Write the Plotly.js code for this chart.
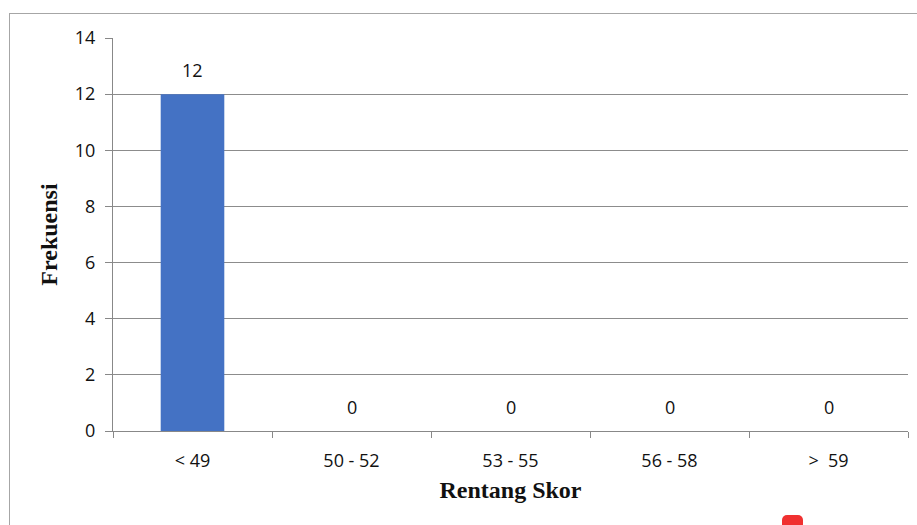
<!DOCTYPE html>
<html>
<head>
<meta charset="utf-8">
<script src="https://cdn.plot.ly/plotly-3.0.1.min.js"></script>
<style>
  html, body { margin: 0; padding: 0; background: #fff; }
  #wrap { position: relative; width: 917px; height: 525px; overflow: hidden; }
  #frame { position: absolute; left: 9px; top: 13px; width: 920px; height: 530px;
           border-left: 1px solid #a6a6a6; border-top: 1px solid #a6a6a6; pointer-events: none; }
  #chart { position: absolute; left: 0; top: 0; width: 917px; height: 525px; }
  #mark { position: absolute; left: 782px; top: 515px; width: 21px; height: 14px;
          background: #f03030; border-radius: 5px; }
</style>
</head>
<body>
<div id="wrap">
  <div id="chart"></div>
  <div id="frame"></div>
  <div id="mark"></div>
</div>
<script>
const categories = ["< 49", "50 - 52", "53 - 55", "56 - 58", ">  59"];
const frequencies = [12, 0, 0, 0, 0];
const yTicks = [0, 2, 4, 6, 8, 10, 12, 14];

const trace = {
  type: "bar",
  x: categories,
  y: frequencies,
  marker: { color: "#4472C4" },
  width: 0.4,
  hoverinfo: "skip"
};

const annotations = categories.map((c, i) => ({
  x: c,
  y: frequencies[i],
  text: String(frequencies[i]),
  showarrow: false,
  yanchor: "bottom",
  yshift: 10,
  font: { family: "Open Sans, sans-serif", size: 18, color: "#111" }
}));

const layout = {
  width: 917,
  height: 525,
  margin: { l: 113, r: 9, t: 38, b: 94 },
  paper_bgcolor: "rgba(0,0,0,0)",
  plot_bgcolor: "#fff",
  showlegend: false,
  bargap: 0.6,
  xaxis: {
    type: "category",
    tickson: "boundaries",
    ticks: "outside",
    ticklen: 6,
    tickcolor: "#888",
    showline: true,
    linecolor: "#888",
    linewidth: 1,
    showgrid: false,
    tickfont: { family: "Open Sans, sans-serif", size: 18, color: "#111" },
    ticklabelstandoff: 13,
    title: {
      text: "Rentang Skor",
      font: { family: "Liberation Serif, serif", size: 24, color: "#111", weight: "bold" },
      standoff: 10
    },
    fixedrange: true
  },
  yaxis: {
    range: [0, 14],
    tickvals: yTicks,
    ticktext: yTicks.map(String),
    ticks: "outside",
    ticklen: 7,
    tickcolor: "#888",
    showline: true,
    linecolor: "#888",
    linewidth: 1,
    showgrid: true,
    gridcolor: "#8c8c8c",
    gridwidth: 1,
    zeroline: false,
    tickfont: { family: "Open Sans, sans-serif", size: 18, color: "#111" },
    ticklabelstandoff: 6,
    title: {
      text: "Frekuensi",
      font: { family: "Liberation Serif, serif", size: 24, color: "#111", weight: "bold" },
      standoff: 10
    },
    fixedrange: true
  },
  annotations: annotations
};

Plotly.newPlot("chart", [trace], layout, { displayModeBar: false, staticPlot: true });
</script>
</body>
</html>
